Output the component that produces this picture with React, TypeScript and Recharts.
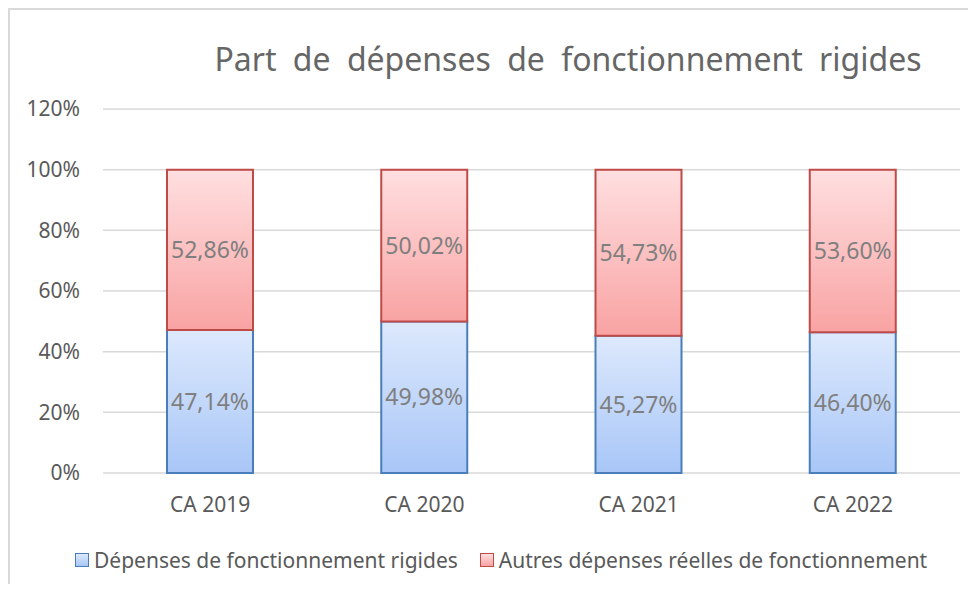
import React from 'react';
import { BarChart, Bar, XAxis, YAxis, CartesianGrid, Legend, LabelList } from 'recharts';

const years = ['CA 2019', 'CA 2020', 'CA 2021', 'CA 2022'];
const rigides = [47.14, 49.98, 45.27, 46.4];
const autres = [52.86, 50.02, 54.73, 53.6];
const yTicks = [0, 20, 40, 60, 80, 100, 120];

const serieRigide = 'Dépenses de fonctionnement rigides';
const serieAutres = 'Autres dépenses réelles de fonctionnement';

const data = years.map((name, i) => ({ name, rigide: rigides[i], autre: autres[i] }));

const font = '"Noto Sans", "Open Sans", sans-serif';
const fmt = (v: any) => Number(v).toFixed(2).replace('.', ',') + '%';

const LegendBox = () => (
  <div style={{ display: 'flex', alignItems: 'center', height: 30, marginLeft: 65, fontFamily: font, fontSize: 21, color: '#595959', whiteSpace: 'nowrap' }}>
    <span style={{ width: 12, height: 12, border: '1.5px solid #4a7ebb', background: 'linear-gradient(#dde9fd, #a8c6f7)', marginRight: 5 }} />
    <span style={{ marginRight: 22 }}>{serieRigide}</span>
    <span style={{ width: 12, height: 12, border: '1.5px solid #be4b48', background: 'linear-gradient(#ffdfe0, #f9a3a3)', marginRight: 5 }} />
    <span>{serieAutres}</span>
  </div>
);

export default function App() {
  return (
    <div style={{ position: 'relative', width: 960, height: 576, boxSizing: 'border-box', borderTop: '2px solid #d9d9d9', borderLeft: '2px solid #d9d9d9', background: '#fff' }}>
      <div style={{ position: 'absolute', left: 158, top: 33, width: 800, textAlign: 'center', fontFamily: font, fontSize: 32, lineHeight: '32px', color: '#666', wordSpacing: 8, whiteSpace: 'nowrap' }}>
        Part de dépenses de fonctionnement rigides
      </div>
      <BarChart width={958} height={574} data={data} margin={{ top: 99, right: 8, left: 0, bottom: 9 }} barSize={86}>
        <defs>
          <linearGradient id="gBlue" x1="0" y1="0" x2="0" y2="1">
            <stop offset="0%" stopColor="#dde9fd" />
            <stop offset="100%" stopColor="#a8c6f7" />
          </linearGradient>
          <linearGradient id="gRed" x1="0" y1="0" x2="0" y2="1">
            <stop offset="0%" stopColor="#ffdfe0" />
            <stop offset="100%" stopColor="#f9a3a3" />
          </linearGradient>
        </defs>
        <CartesianGrid vertical={false} stroke="#d9d9d9" strokeWidth={1.5} />
        <XAxis dataKey="name" axisLine={false} tickLine={false} tickSize={0} tickMargin={24} height={72}
          tick={{ fill: '#595959', fontSize: 21, fontFamily: font }} />
        <YAxis domain={[0, 120]} ticks={yTicks} axisLine={false} tickLine={false} tickSize={0} tickMargin={23} width={93}
          tickFormatter={(v) => `${v}%`} tick={{ fill: '#595959', fontSize: 21, fontFamily: font }} />
        <Legend verticalAlign="bottom" content={<LegendBox />} wrapperStyle={{ left: 0, width: 958 }} />
        <Bar dataKey="rigide" name={serieRigide} stackId="a" fill="url(#gBlue)" stroke="#4a7ebb" strokeWidth={2} isAnimationActive={false}>
          <LabelList dataKey="rigide" position="center" formatter={fmt} fill="#7f7f7f" fontSize={23} fontFamily={font} />
        </Bar>
        <Bar dataKey="autre" name={serieAutres} stackId="a" fill="url(#gRed)" stroke="#be4b48" strokeWidth={2} isAnimationActive={false}>
          <LabelList dataKey="autre" position="center" formatter={fmt} fill="#7f7f7f" fontSize={23} fontFamily={font} />
        </Bar>
      </BarChart>
    </div>
  );
}
